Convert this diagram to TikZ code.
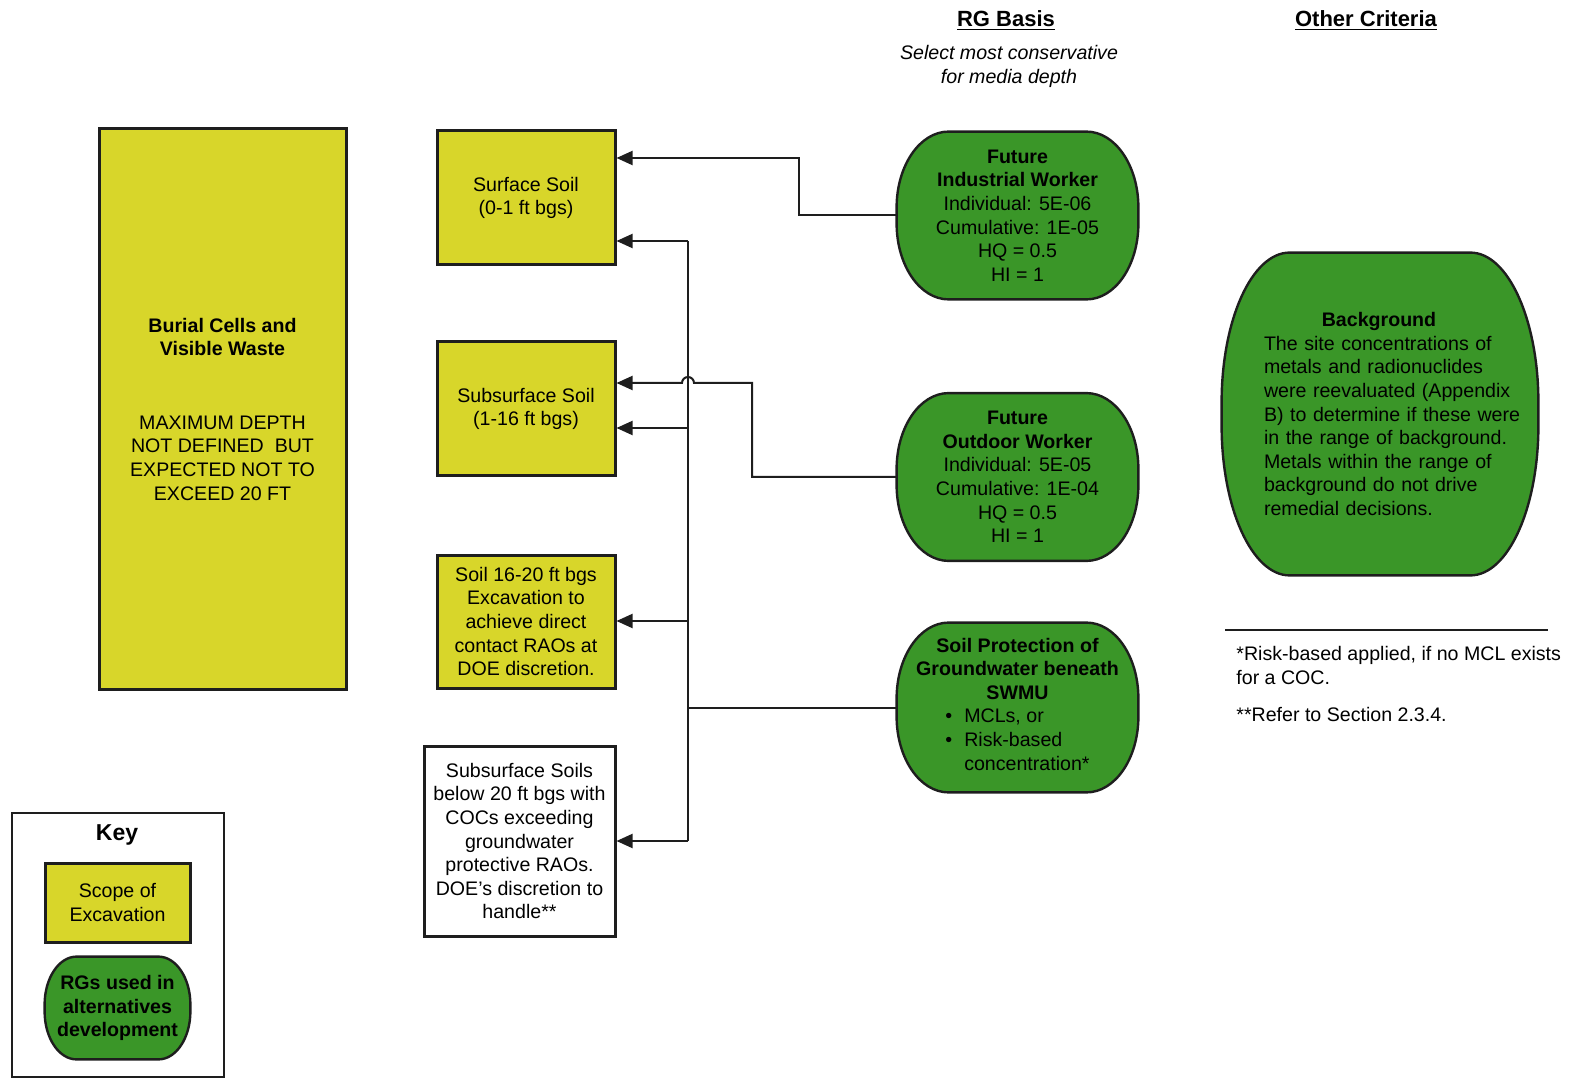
\documentclass[tikz,border=0pt]{standalone}
\usepackage{fontspec}
\setmainfont{Liberation Sans}
\usetikzlibrary{arrows.meta,positioning,calc,backgrounds}
\usepackage{xcolor}
\definecolor{Scope}{RGB}{216,214,42}
\definecolor{RGgreen}{RGB}{58,150,40}
\definecolor{Ink}{RGB}{30,30,30}
\tikzset{
  sbox/.style={rectangle,draw=Ink,line width=1.5pt,fill=Scope,align=center,
               font=\fontsize{9.8}{11.8}\selectfont,inner sep=2pt},
  wbox/.style={sbox,fill=white},
  rgnode/.style={rectangle,align=center,font=\fontsize{9.8}{11.8}\selectfont,inner sep=0pt},
  rgfill/.style={draw=Ink,line width=1.2pt,fill=RGgreen},
  link/.style={draw=Ink,line width=1pt},
  arr/.style={link,-{Triangle[length=8pt,width=7pt]}},
  head/.style={font=\fontsize{11}{13}\selectfont\bfseries},
}
% green outline: node, x radius, y radius
\newcommand{\rgshape}[3]{%
  \path[rgfill] ($(#1.north west)+(#2,0)$) -- ($(#1.north east)+(-#2,0)$)
    arc[start angle=90,end angle=0,x radius=#2,y radius=#3]
    -- ($(#1.south east)+(0,#3)$)
    arc[start angle=0,end angle=-90,x radius=#2,y radius=#3]
    -- ($(#1.south west)+(#2,0)$)
    arc[start angle=270,end angle=180,x radius=#2,y radius=#3]
    -- ($(#1.north west)+(0,-#3)$)
    arc[start angle=180,end angle=90,x radius=#2,y radius=#3] -- cycle;}

\begin{document}
\begin{tikzpicture}[x=0.5pt,y=0.5pt]
  \useasboundingbox (0,0) rectangle (1578,-1079);

  % headings
  \node[head] (rghead) at (1006,-21) {\underline{RG Basis}};
  \node[align=center,font=\fontsize{9.8}{12}\selectfont\itshape] (rgnote) at (1009,-66)
    {Select most conservative\\for media depth};
  \node[head] (otherhead) at (1366,-21) {\underline{Other Criteria}};

  % scope of excavation
  \node[sbox,minimum width=123.5pt,minimum height=280pt] (burial) at (222.5,-409)
    {\textbf{Burial Cells and}\\\textbf{Visible Waste}\\[25pt]MAXIMUM DEPTH\\NOT DEFINED\ \ BUT\\EXPECTED NOT TO\\EXCEED 20 FT};
  \node[sbox,minimum width=89pt,minimum height=67pt] (surf) at (526,-198)
    {Surface Soil\\(0-1 ft bgs)};
  \node[sbox,minimum width=89pt,minimum height=67pt] (sub) at (526,-409)
    {Subsurface Soil\\(1-16 ft bgs)};
  \node[sbox,minimum width=89pt,minimum height=66.5pt] (deep) at (526,-621.5)
    {Soil 16-20 ft bgs\\Excavation to\\achieve direct\\contact RAOs at\\DOE discretion.};
  \node[wbox,minimum width=95.5pt,minimum height=95pt] (below) at (519.5,-841)
    {Subsurface Soils\\below 20 ft bgs with\\COCs exceeding\\groundwater\\protective RAOs.\\DOE’s discretion to\\handle**};

  % RGs
  \node[rgnode,minimum width=120.5pt,minimum height=83.5pt] (ind) at (1017.5,-215.5)
    {\textbf{Future}\\\textbf{Industrial Worker}\\Individual: 5E-06\\Cumulative: 1E-05\\HQ = 0.5\\HI = 1};
  \node[rgnode,minimum width=120.5pt,minimum height=83.5pt] (out) at (1017.5,-477)
    {\textbf{Future}\\\textbf{Outdoor Worker}\\Individual: 5E-05\\Cumulative: 1E-04\\HQ = 0.5\\HI = 1};
  \node[rgnode,minimum width=120.5pt,minimum height=84.5pt] (prot) at (1017.5,-707.5)
    {\textbf{Soil Protection of}\\\textbf{Groundwater beneath}\\\textbf{SWMU}\\
     \begin{tabular}[t]{@{}l@{\hspace{6pt}}l@{}}\textbullet&MCLs, or\\\textbullet&Risk-based\\&concentration*\end{tabular}};
  \node[rgnode,minimum width=158pt,minimum height=161pt,text width=144pt,align=left] (bg) at (1380,-414)
    {\leftskip=14pt\makebox[115pt]{\textbf{Background}}\\The site concentrations of\\metals and radionuclides\\were reevaluated (Appendix\\B) to determine if these were\\in the range of background.\\Metals within the range of\\background do not drive\\remedial decisions.\par};

  % key
  \node[draw=Ink,line width=1pt,minimum width=106pt,minimum height=132pt] (keybox) at (118,-945) {};
  \node[font=\fontsize{11.5}{13}\selectfont\bfseries] (keytitle) at (117,-835) {Key};
  \node[sbox,minimum width=72.5pt,minimum height=39.5pt] (keyscope) at (117.5,-902.5) {Scope of\\Excavation};
  \node[rgnode,minimum width=72.5pt,minimum height=51pt,font=\fontsize{9.8}{11.8}\selectfont\bfseries] (keyrg) at (117.5,-1008)
    {RGs used in\\alternatives\\development};

  \begin{scope}[on background layer]
    \rgshape{ind}{26pt}{38pt}
    \rgshape{out}{26pt}{38pt}
    \rgshape{prot}{26pt}{38pt}
    \rgshape{bg}{34pt}{75pt}
    \rgshape{keyrg}{16pt}{24pt}
  \end{scope}

  % footnotes
  \draw[link] (1225,-630) -- (1548,-630);
  \node[anchor=north west,align=left,inner sep=0pt,font=\fontsize{9.8}{11.8}\selectfont] (notes) at (1236,-646)
    {*Risk-based applied, if no MCL exists\\for a COC.\\[7pt]**Refer to Section 2.3.4.};

  % connectors
  \coordinate (indbend) at (799,-158);
  \draw[arr] (ind.west) -| (indbend) -- (surf.east |- indbend);
  \coordinate (outbend) at (752,-383);
  \coordinate (hop) at (694,-383);
  \draw[arr] (out.west) -| (outbend) -- (hop) arc[start angle=0,end angle=180,radius=3pt] -- (sub.east |- hop);
  \coordinate (bustop) at (688,-241);
  \coordinate (bussub) at (688,-428);
  \coordinate (busdeep) at (688,-621);
  \coordinate (busbot) at (688,-841);
  \draw[link] (prot.west) -- (prot.west -| bustop);
  \draw[link] (bustop) -- (busbot);
  \draw[arr] (bustop) -- (surf.east |- bustop);
  \draw[arr] (bussub) -- (sub.east |- bussub);
  \draw[arr] (busdeep) -- (deep.east |- busdeep);
  \draw[arr] (busbot) -- (below.east |- busbot);
\end{tikzpicture}
\end{document}
